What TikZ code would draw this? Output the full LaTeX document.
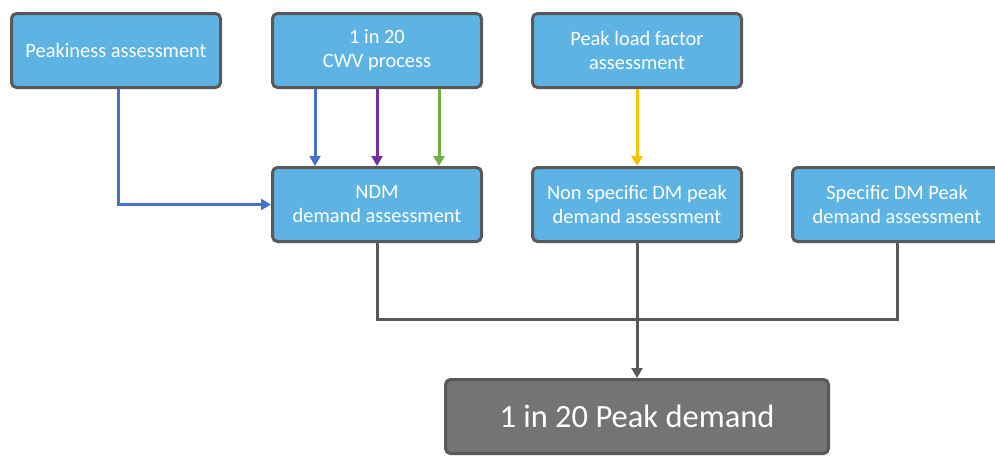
\documentclass[tikz,border=0pt]{standalone}
\usepackage{fontspec}
\setmainfont{Carlito}
\usetikzlibrary{arrows.meta,calc}
\definecolor{boxblue}{RGB}{93,179,228}
\definecolor{boxborder}{RGB}{89,89,89}
\definecolor{boxgray}{RGB}{115,116,115}
\definecolor{lnblue}{RGB}{68,114,196}
\definecolor{lnpurple}{RGB}{112,48,160}
\definecolor{lngreen}{RGB}{112,173,71}
\definecolor{lnyellow}{RGB}{255,192,0}
\tikzset{
  procbox/.style={draw=boxborder, fill=boxblue, line width=3pt, rounded corners=5pt,
    minimum width=209pt, minimum height=74pt, text=white, align=center,
    font=\fontsize{20.4}{24}\selectfont, inner sep=0pt},
  resultbox/.style={procbox, fill=boxgray, minimum width=383pt, font=\fontsize{32.5}{36}\selectfont},
  conn/.style={line width=3pt, -{Triangle[length=10pt,width=11pt]}},
  joinline/.style={line width=3pt, draw=boxborder}
}
\begin{document}
\begin{tikzpicture}[x=1pt,y=-1pt]
\useasboundingbox (0,0) rectangle (995,455);
\node[procbox] (b1) at (116,50.5) {Peakiness assessment};
\node[procbox] (b2) at (377,50.5) {1 in 20\\CWV process};
\node[procbox] (b3) at (637,50.5) {Peak load factor\\assessment};
\node[procbox] (b4) at (377,204.5) {NDM\\demand assessment};
\node[procbox] (b5) at (637,204.5) {Non specific DM peak\\demand assessment};
\node[procbox] (b6) at (897,204.5) {Specific DM Peak\\demand assessment};
\node[resultbox] (b7) at (637,416.5) {1 in 20 Peak demand};
\coordinate (j) at (637,319);
% inputs
\draw[conn, lnblue] ([xshift=2pt]b1.south) |- (b4.west);
\draw[conn, lnblue] ([xshift=-62pt]b2.south) -- ([xshift=-62pt]b4.north);
\draw[conn, lnpurple] (b2.south) -- (b4.north);
\draw[conn, lngreen] ([xshift=62pt]b2.south) -- ([xshift=62pt]b4.north);
\draw[conn, lnyellow] (b3.south) -- (b5.north);
% join
\draw[joinline] (b4.south) |- (j) -| (b6.south);
\draw[joinline, conn] (b5.south) -- (b7.north);
\end{tikzpicture}
\end{document}
